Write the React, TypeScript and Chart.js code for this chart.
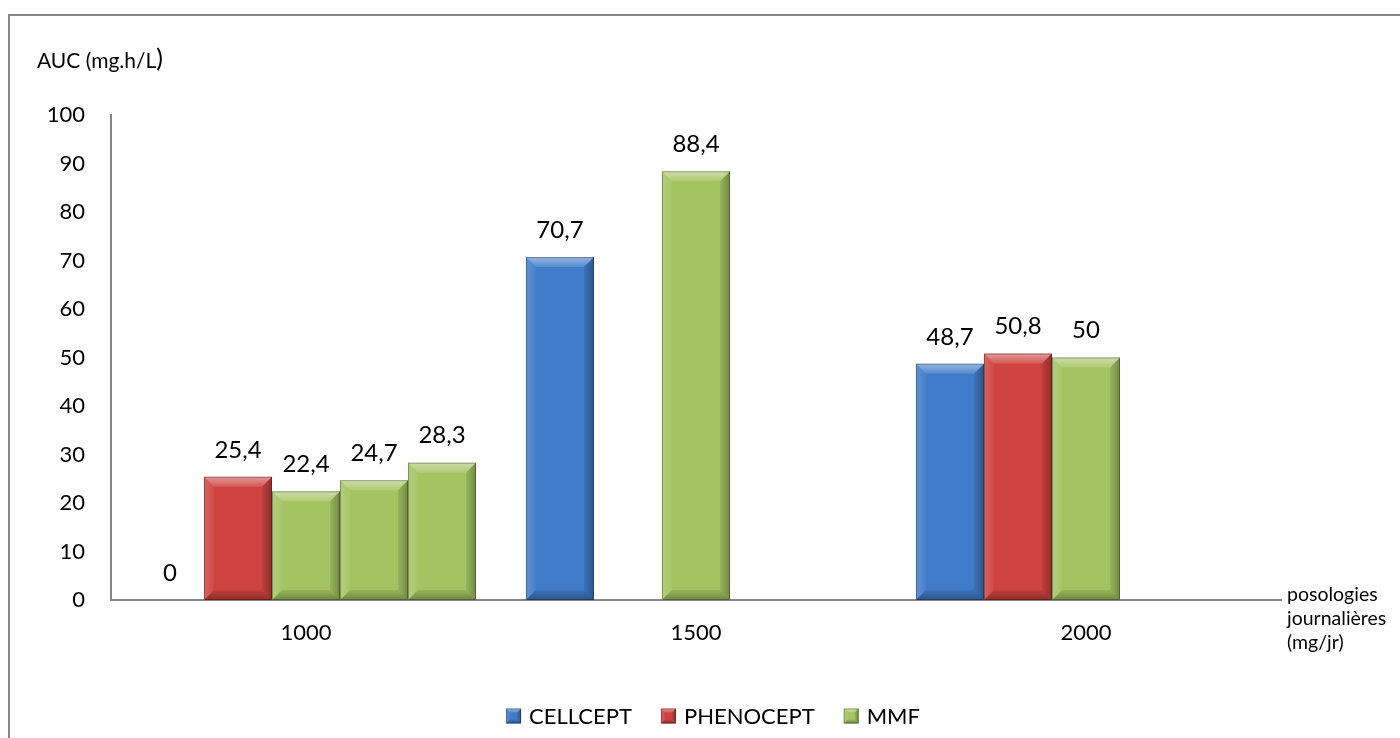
import React, { useEffect, useRef } from "react";
import { Chart, registerables } from "chart.js";

Chart.register(...registerables);

const categories = ["1000", "1500", "2000"];
const cellceptValues = [0, 70.7, 48.7];
const phenoceptValues = [25.4, null, 50.8];
const mmfValues = [22.4, 88.4, 50];
const mmf2Values = [24.7, null, null];
const mmf3Values = [28.3, null, null];
const legendLabels = ["CELLCEPT", "PHENOCEPT", "MMF"];
const yTitle = "AUC (mg.h/L";
const xTitleLines = ["posologies", "journalières", "(mg/jr)"];

const BLUE = "#3F7BC8";
const RED = "#CE4340";
const GREEN = "#A3C461";
const FONT = "Lato";

function bevel(ctx: CanvasRenderingContext2D, l: number, t: number, r: number, b: number, s: number) {
  const h = b - t;
  if (h <= 0) return;
  const sz = Math.min(s, h / 2, (r - l) / 2);
  ctx.save();
  // top
  const gt = ctx.createLinearGradient(0, t, 0, t + sz);
  gt.addColorStop(0, "rgba(255,255,255,0.45)");
  gt.addColorStop(1, "rgba(255,255,255,0.12)");
  ctx.fillStyle = gt;
  ctx.beginPath();
  ctx.moveTo(l, t); ctx.lineTo(r, t); ctx.lineTo(r - sz, t + sz); ctx.lineTo(l + sz, t + sz); ctx.closePath(); ctx.fill();
  // left
  const gl = ctx.createLinearGradient(l, 0, l + sz, 0);
  gl.addColorStop(0, "rgba(255,255,255,0.18)");
  gl.addColorStop(1, "rgba(255,255,255,0.04)");
  ctx.fillStyle = gl;
  ctx.beginPath();
  ctx.moveTo(l, t); ctx.lineTo(l + sz, t + sz); ctx.lineTo(l + sz, b - sz); ctx.lineTo(l, b); ctx.closePath(); ctx.fill();
  // right
  const gr = ctx.createLinearGradient(r - sz, 0, r, 0);
  gr.addColorStop(0, "rgba(0,0,0,0.08)");
  gr.addColorStop(1, "rgba(0,0,0,0.3)");
  ctx.fillStyle = gr;
  ctx.beginPath();
  ctx.moveTo(r, t); ctx.lineTo(r - sz, t + sz); ctx.lineTo(r - sz, b - sz); ctx.lineTo(r, b); ctx.closePath(); ctx.fill();
  // bottom
  const gb = ctx.createLinearGradient(0, b - sz, 0, b);
  gb.addColorStop(0, "rgba(0,0,0,0.08)");
  gb.addColorStop(1, "rgba(0,0,0,0.3)");
  ctx.fillStyle = gb;
  ctx.beginPath();
  ctx.moveTo(l, b); ctx.lineTo(l + sz, b - sz); ctx.lineTo(r - sz, b - sz); ctx.lineTo(r, b); ctx.closePath(); ctx.fill();
  // outline
  ctx.strokeStyle = "rgba(0,0,0,0.3)";
  ctx.lineWidth = 1;
  ctx.strokeRect(l + 0.5, t + 0.5, r - l - 1, h - 1);
  ctx.restore();
}

const decorPlugin = {
  id: "decor",
  afterDatasetsDraw(chart: any) {
    const ctx: CanvasRenderingContext2D = chart.ctx;
    chart.data.datasets.forEach((ds: any, di: number) => {
      const meta = chart.getDatasetMeta(di);
      meta.data.forEach((el: any, i: number) => {
        const v = ds.data[i];
        if (v === null || v === undefined) return;
        const l = el.x - el.width / 2;
        const r = el.x + el.width / 2;
        bevel(ctx, l, el.y, r, el.base, 10);
      });
    });
    // data labels
    ctx.save();
    ctx.fillStyle = "#000";
    ctx.font = `24px ${FONT}`;
    ctx.textAlign = "center";
    ctx.textBaseline = "middle";
    chart.data.datasets.forEach((ds: any, di: number) => {
      const meta = chart.getDatasetMeta(di);
      meta.data.forEach((el: any, i: number) => {
        const v = ds.data[i];
        if (v === null || v === undefined) return;
        ctx.fillText(String(v).replace(".", ","), el.x, el.y - 27);
      });
    });
    ctx.restore();
  },
  afterDraw(chart: any) {
    const ctx: CanvasRenderingContext2D = chart.ctx;
    const area = chart.chartArea;
    ctx.save();
    // outer border (top & left)
    ctx.strokeStyle = "#8A8A8A";
    ctx.lineWidth = 2;
    ctx.beginPath();
    ctx.moveTo(9, 738);
    ctx.lineTo(9, 15);
    ctx.lineTo(1400, 15);
    ctx.stroke();

    // y title
    ctx.fillStyle = "#000";
    ctx.textBaseline = "middle";
    ctx.textAlign = "left";
    ctx.font = `21px ${FONT}`;
    ctx.fillText(yTitle, 37, 61);
    const w = ctx.measureText(yTitle).width;
    ctx.font = `25px ${FONT}`;
    ctx.fillText(")", 37 + w, 59);

    // x title
    ctx.font = `19.5px ${FONT}`;
    xTitleLines.forEach((line, k) => {
      ctx.fillText(line, area.right + 6, 595 + k * 24);
    });

    // legend
    const colors = [BLUE, RED, GREEN];
    ctx.font = `22px ${FONT}`;
    const box = 15, gapText = 8, gapItem = 29;
    const widths = legendLabels.map((t) => ctx.measureText(t).width);
    const total = widths.reduce((a, b) => a + b, 0) + legendLabels.length * (box + gapText) + gapItem * (legendLabels.length - 1);
    let x = 713 - total / 2;
    const cy = 716;
    legendLabels.forEach((t, k) => {
      ctx.fillStyle = colors[k];
      ctx.fillRect(x, cy - box / 2, box, box);
      bevel(ctx, x, cy - box / 2, x + box, cy + box / 2, 4);
      ctx.fillStyle = "#000";
      ctx.fillText(t, x + box + gapText, cy + 1);
      x += box + gapText + widths[k] + gapItem;
    });
    ctx.restore();
  },
};

export default function App() {
  const ref = useRef<HTMLCanvasElement | null>(null);
  useEffect(() => {
    if (!ref.current) return;
    const mk = (label: string, data: (number | null)[], color: string) => ({
      label,
      data,
      backgroundColor: color,
      borderWidth: 0,
      categoryPercentage: 0.872,
      barPercentage: 1,
    });
    const chart = new Chart(ref.current, {
      type: "bar",
      data: {
        labels: categories,
        datasets: [
          mk("CELLCEPT", cellceptValues, BLUE),
          mk("PHENOCEPT", phenoceptValues, RED),
          mk("MMF", mmfValues, GREEN),
          mk("MMF 2", mmf2Values, GREEN),
          mk("MMF 3", mmf3Values, GREEN),
        ],
      },
      options: {
        animation: false,
        responsive: false,
        devicePixelRatio: 1,
        layout: { padding: { left: 0, right: 119, top: 115, bottom: 0 } },
        plugins: { legend: { display: false }, tooltip: { enabled: false }, title: { display: false } },
        scales: {
          x: {
            grid: { display: false, drawTicks: false },
            border: { display: true, color: "#868686", width: 2 },
            ticks: { color: "#000", font: { family: FONT, size: 22 }, padding: 20 },
            afterFit: (s: any) => { s.height = 138; },
          },
          y: {
            min: 0,
            max: 100,
            grid: { display: false, drawTicks: false },
            border: { display: true, color: "#868686", width: 2 },
            ticks: { stepSize: 10, color: "#000", font: { family: FONT, size: 22 }, padding: 26 },
            afterFit: (s: any) => { s.width = 111; },
          },
        },
      },
      plugins: [decorPlugin],
    });
    return () => chart.destroy();
  }, []);
  return (
    <div style={{ position: "absolute", left: 0, top: 0, width: 1400, height: 738, background: "#fff" }}>
      <canvas ref={ref} width={1400} height={738} style={{ display: "block" }} />
    </div>
  );
}
